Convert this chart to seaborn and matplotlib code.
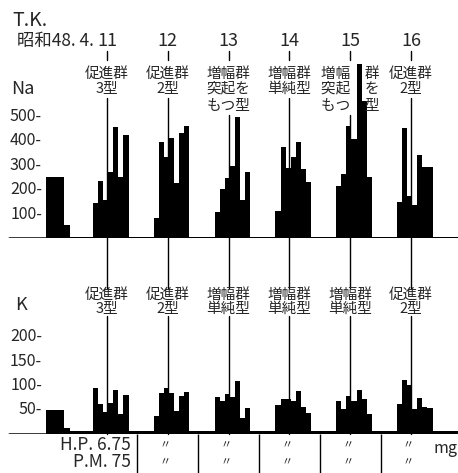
import matplotlib
matplotlib.use("Agg")
import matplotlib.pyplot as plt
import matplotlib.transforms as mtransforms
import pandas as pd
import seaborn as sns

sns.set_style("white")
plt.rcParams["font.family"] = ["Noto Sans CJK JP", "DejaVu Sans"]

# --- data (hours counted from 4/11 0:00) ---
DAYS = ["11", "12", "13", "14", "15", "16"]
COLLECT_EDGES = [6.5, 8.5, 10.5, 12.5, 14.5, 16.5, 18.5, 20.5]   # 2 h samples each day
PRE_EDGES = [-12, -5, -2.5]                                      # evening of 4/10

NA_PRE = [250, 55]
NA_NIGHT = 8
NA_11 = [145, 233, 158, 270, 455, 250, 422]
NA_12 = [82, 395, 332, 411, 225, 431, 458]
NA_13 = [109, 202, 245, 297, 497, 158, 272]
NA_14 = [112, 372, 288, 332, 393, 284, 230]
NA_15 = [215, 262, 460, 405, 712, 560, 250]
NA_16 = [150, 449, 173, 136, 342, 290, 290]

K_PRE = [49, 14]
K_NIGHT = 6
K_11 = [94, 63, 46, 65, 90, 42, 80]
K_12 = [37, 84, 94, 84, 48, 78, 87]
K_13 = [77, 69, 82, 77, 109, 34, 55]
K_14 = [60, 73, 72, 68, 88, 56, 43]
K_15 = [69, 51, 78, 69, 90, 73, 41]
K_16 = [63, 111, 100, 52, 74, 57, 53]

NA_LABELS = [["促進群", "3型"], ["促進群", "2型"], ["増幅群", "突起を", "もつ型"],
             ["増幅群", "単純型"], ["増幅　群", "突起　を", "もつ　型"], ["促進群", "2型"]]
K_LABELS = [["促進群", "3型"], ["促進群", "2型"], ["増幅群", "単純型"],
            ["増幅群", "単純型"], ["増幅群", "単純型"], ["促進群", "2型"]]
NA_TICKS = [100, 200, 300, 400, 500]
K_TICKS = [50, 100, 150, 200]
DOSE_ROWS = ["H.P. 6.75", "P.M. 75"]

# --- layout (pixels of the 458x473 picture) ---
W, H = 458, 473
PX_PER_HOUR = 60.8 / 24
NOON_11_PX = 107
X_MIN = 12 - NOON_11_PX / PX_PER_HOUR
X_MAX = 12 + (W - NOON_11_PX) / PX_PER_HOUR
NA_BASE, NA_TOP, NA_SCALE = 238.5, 40, 0.245
K_BASE, K_TOP, K_SCALE = 434.4, 250, 0.489


def hx(px):
    return 12 + (px - NOON_11_PX) / PX_PER_HOUR


def build_series(pre, night, days):
    edges = list(PRE_EDGES)
    vals = list(pre)
    for i, day_vals in enumerate(days):
        start = 24 * i
        edges.append(start + COLLECT_EDGES[0])
        vals.append(night)
        for e, v in zip(COLLECT_EDGES[1:], day_vals):
            edges.append(start + e)
            vals.append(v)
    edges.append(X_MAX + 1)
    vals.append(night)
    df = pd.DataFrame({
        "hour": [(a + b) / 2 for a, b in zip(edges[:-1], edges[1:])],
        "value": [float(v) for v in vals],
    })
    return [float(e) for e in edges], df


fig = plt.figure(figsize=(W / 100, H / 100), dpi=100)
ax_na = fig.add_axes([0, (H - NA_BASE) / H, 1, (NA_BASE - NA_TOP) / H])
ax_k = fig.add_axes([0, (H - K_BASE) / H, 1, (K_BASE - K_TOP) / H])
ax_txt = fig.add_axes([0, 0, 1, 1], zorder=5)
ax_txt.patch.set_alpha(0)

panels = [
    (ax_na, NA_PRE, NA_NIGHT, [NA_11, NA_12, NA_13, NA_14, NA_15, NA_16], NA_BASE, NA_TOP, NA_SCALE, NA_TICKS),
    (ax_k, K_PRE, K_NIGHT, [K_11, K_12, K_13, K_14, K_15, K_16], K_BASE, K_TOP, K_SCALE, K_TICKS),
]
for ax, pre, night, days, base, top, scale, ticks in panels:
    edges, df = build_series(pre, night, days)
    sns.histplot(data=df, x="hour", weights="value", bins=edges, element="step", fill=True,
                 color="black", alpha=1, linewidth=0, ax=ax)
    ax.axhline(0, xmin=9 / W, color="black", lw=1.8)
    ax.set_xlim(X_MIN, X_MAX)
    ax.set_ylim(0, (base - top) / scale)
    ax.set_axis_off()
    trans = mtransforms.blended_transform_factory(ax.transAxes, ax.transData)
    for t in ticks:
        ax.text(42 / W, t, f"{t}-", transform=trans, ha="right", va="center", fontsize=11.5)

ax_txt.set_xlim(X_MIN, X_MAX)
ax_txt.set_ylim(H, 0)
ax_txt.set_axis_off()

NA_ROW_Y = [74, 89, 106]
K_ROW_Y = [295, 309]
for i, day in enumerate(DAYS):
    x = 24 * i + 12
    ax_txt.text(x, 41, day, ha="center", va="center", fontsize=13)
    ax_txt.plot([x, x], [51, 60], color="black", lw=1)
    for r, line in enumerate(NA_LABELS[i]):
        ax_txt.text(x, NA_ROW_Y[r], line, ha="center", va="center", fontsize=10.5)
    for r, line in enumerate(K_LABELS[i]):
        ax_txt.text(x, K_ROW_Y[r], line, ha="center", va="center", fontsize=10.5)
    na_top = NA_ROW_Y[len(NA_LABELS[i]) - 1] + 9
    ax_txt.plot([x, x], [na_top, 288], color="black", lw=1)
    ax_txt.plot([x, x], [316, K_BASE], color="black", lw=1)

ax_txt.text(hx(94), 41, "昭和48. 4.", ha="right", va="center", fontsize=12.5)
ax_txt.text(hx(12), 21, "T.K.", ha="left", va="center", fontsize=14)
ax_txt.text(hx(11), 89, "Na", ha="left", va="center", fontsize=13)
ax_txt.text(hx(15), 305, "K", ha="left", va="center", fontsize=13)

# dose table under the K panel
ax_txt.vlines([24 * (i + 1) for i in range(len(DAYS) - 1)], K_BASE, H, color="black", lw=1)
for r, (row, y) in enumerate(zip(DOSE_ROWS, [445, 462])):
    ax_txt.text(hx(131), y, row, ha="right", va="center", fontsize=12.5)
    for i in range(1, len(DAYS)):
        ax_txt.text(24 * i + 11, y, "〃", ha="center", va="center", fontsize=8)
ax_txt.text(hx(433), 448, "mg", ha="left", va="center", fontsize=11.5)

fig.savefig("out.png", dpi=100)
